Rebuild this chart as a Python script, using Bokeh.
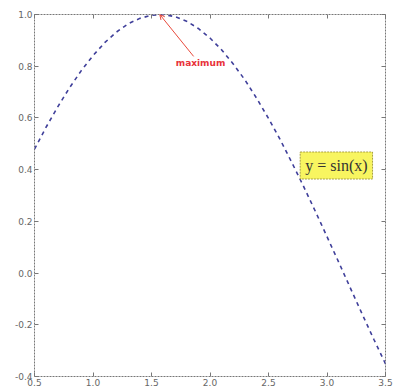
from bokeh.plotting import figure
from bokeh.models import (LinearAxis, FixedTicker, Label, Arrow, OpenHead,
                          Range1d, ColumnDataSource)
from bokeh.embed import file_html
from bokeh.resources import INLINE

# Data (curve y = sin(x))
x_vals = [0.5, 0.6, 0.7, 0.8, 0.9, 1.0, 1.1, 1.2, 1.3, 1.4, 1.5, 1.6, 1.7, 1.8,
          1.9, 2.0, 2.1, 2.2, 2.3, 2.4, 2.5, 2.6, 2.7, 2.8, 2.9, 3.0, 3.1, 3.2,
          3.3, 3.4, 3.5]
y_vals = [0.479, 0.565, 0.644, 0.717, 0.783, 0.841, 0.891, 0.932, 0.964, 0.985,
          0.997, 1.000, 0.992, 0.974, 0.946, 0.909, 0.863, 0.808, 0.746, 0.675,
          0.598, 0.516, 0.427, 0.335, 0.239, 0.141, 0.042, -0.058, -0.158,
          -0.256, -0.351]
x_ticks = [0.5, 1.0, 1.5, 2.0, 2.5, 3.0, 3.5]
x_tick_labels = ["0.5", "1.0", "1.5", "2.0", "2.5", "3.0", "3.5"]
y_ticks = [-0.4, -0.2, 0.0, 0.2, 0.4, 0.6, 0.8, 1.0]
y_tick_labels = ["-0.4", "-0.2", "0.0", "0.2", "0.4", "0.6", "0.8", "1.0"]

max_point = (1.5708, 1.0)
max_text_pos = (1.919, 0.814)
arrow_tail = (1.86, 0.838)
formula_text = "y = sin(x)"
formula_pos = (3.08, 0.416)

p = figure(width=397, height=388, output_backend="svg", toolbar_location=None,
           x_range=Range1d(0.5, 3.5), y_range=Range1d(-0.4, 1.0),
           x_axis_location=None, y_axis_location=None,
           min_border_left=34, min_border_right=12, min_border_top=14,
           min_border_bottom=12)
p.grid.visible = False
p.outline_line_color = "#777777"
p.outline_line_dash = "2 1"
p.outline_line_width = 1
p.background_fill_color = "white"
p.border_fill_color = "white"

src = ColumnDataSource(dict(x=x_vals, y=y_vals))
p.line("x", "y", source=src, line_color="#3f3f9a", line_width=1.6,
       line_dash="4 4")


def style_axis(ax, ticks, labels, show_labels):
    ax.ticker = FixedTicker(ticks=ticks)
    ax.major_label_overrides = {t: l for t, l in zip(ticks, labels)}
    ax.axis_line_color = None
    ax.major_tick_in = 4
    ax.major_tick_out = 0
    ax.major_tick_line_color = "#777777"
    ax.minor_tick_line_color = None
    ax.major_label_text_font = "DejaVu Sans"
    ax.major_label_text_font_size = "9px"
    ax.major_label_text_color = "#666666" if show_labels else None
    ax.major_label_standoff = 2


left = LinearAxis()
style_axis(left, y_ticks, y_tick_labels, True)
p.add_layout(left, "left")
bottom = LinearAxis()
style_axis(bottom, x_ticks, x_tick_labels, True)
p.add_layout(bottom, "below")
right = LinearAxis()
style_axis(right, y_ticks, y_tick_labels, False)
right.major_label_text_font_size = "0px"
right.major_label_standoff = 0
p.add_layout(right, "right")
top = LinearAxis()
style_axis(top, x_ticks, x_tick_labels, False)
top.major_label_text_font_size = "0px"
top.major_label_standoff = 0
p.add_layout(top, "above")

p.add_layout(Arrow(end=OpenHead(size=5, line_color="#e84a3c", line_width=1),
                   x_start=arrow_tail[0], y_start=arrow_tail[1],
                   x_end=max_point[0], y_end=max_point[1],
                   line_color="#e84a3c", line_width=1))
p.add_layout(Label(x=max_text_pos[0], y=max_text_pos[1], text="maximum",
                   text_font="DejaVu Sans", text_font_style="bold",
                   text_font_size="9px", text_color="#e8323a",
                   text_align="center", text_baseline="middle"))
p.add_layout(Label(x=formula_pos[0], y=formula_pos[1], text=formula_text,
                   text_font="Liberation Serif", text_font_size="16px",
                   text_color="#333333", text_align="center",
                   text_baseline="middle",
                   background_fill_color="#f8f560", background_fill_alpha=1,
                   border_line_color="#a8a040", border_line_dash="2 1",
                   border_line_width=1, padding=5))

open("out.html", "w").write(file_html(p, INLINE))
